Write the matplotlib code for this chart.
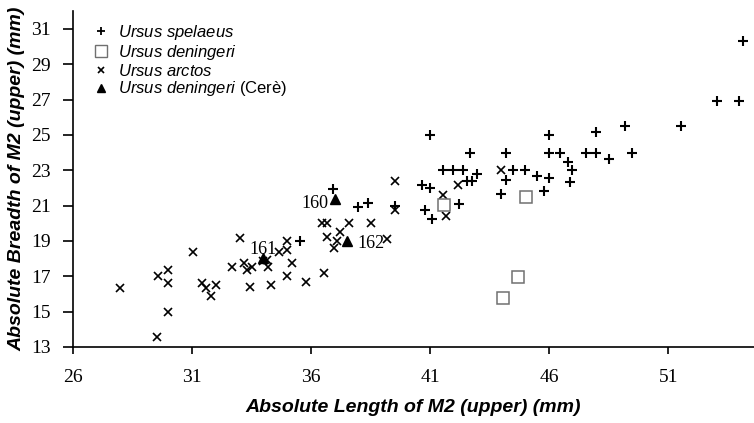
import matplotlib
matplotlib.use("Agg")
import matplotlib.pyplot as plt
from matplotlib.lines import Line2D

# Ursus spelaeus (+)
spel_len = [35.53, 36.9, 37.96, 38.39, 39.5, 40.64, 40.99, 40.99, 40.77, 41.07,
            41.52, 41.97, 42.39, 42.2, 42.55, 42.77, 42.67, 42.97, 43.96, 44.18,
            44.18, 44.49, 44.98, 45.47, 45.77, 45.97, 45.97, 45.97, 46.47, 46.77,
            46.97, 46.85, 47.53, 47.96, 47.96, 48.49, 49.18, 49.48, 51.55, 53.06,
            53.96, 54.15]
spel_br = [19.0, 21.94, 20.94, 21.17, 21.0, 22.15, 21.98, 25.0, 20.75, 20.23,
           23.02, 23.02, 23.02, 21.1, 22.39, 22.37, 24.0, 22.8, 21.66, 24.0,
           22.44, 23.03, 23.02, 22.66, 21.84, 25.0, 24.0, 22.58, 23.98, 23.49,
           23.04, 22.36, 23.96, 23.96, 25.19, 23.66, 25.5, 23.96, 25.52, 26.94,
           26.94, 30.32]

# Ursus deningeri (quadrati)
den_len = [41.58, 45.02, 44.7, 44.07]
den_br = [21.04, 21.46, 16.96, 15.75]

# Ursus arctos (x)
arc_len = [27.96, 29.5, 29.56, 30.0, 30.0, 30.0, 31.02, 31.39, 31.56, 31.77,
           32.0, 32.68, 32.99, 33.17, 33.31, 33.51, 33.42, 33.98, 34.15, 34.18,
           34.31, 34.64, 34.97, 34.99, 35.19, 34.99, 35.78, 36.52, 36.45, 36.65,
           36.65, 37.2, 37.07, 36.97, 37.6, 38.49, 39.19, 39.5, 39.5, 41.55,
           41.68, 42.18, 43.96]
arc_br = [16.32, 13.58, 17.02, 17.36, 16.6, 14.98, 18.38, 16.6, 16.36, 15.9,
          16.53, 17.54, 19.19, 17.74, 17.36, 17.54, 16.41, 17.87, 17.92, 17.54,
          16.53, 18.39, 18.49, 19.02, 17.77, 17.02, 16.66, 17.17, 20.03, 20.03,
          19.2, 19.5, 18.98, 18.58, 20.03, 20.0, 19.1, 22.37, 20.75, 21.6,
          20.4, 22.17, 23.02]

# Ursus deningeri (Cerè), con numero di reperto
cere_len = [37.0, 33.98, 37.52]
cere_br = [21.38, 18.02, 19.02]
cere_lab = ["160", "161", "162"]

x_ticks = [26, 31, 36, 41, 46, 51]
y_ticks = [13, 15, 17, 19, 21, 23, 25, 27, 29, 31]

plt.rcParams["mathtext.fontset"] = "custom"
plt.rcParams["mathtext.it"] = "Liberation Sans:italic"
plt.rcParams["mathtext.rm"] = "Liberation Sans"

fig = plt.figure(figsize=(7.54, 4.23), dpi=100)
ax = fig.add_axes([0.0972, 0.1797, 0.9028, 0.7937])

ax.plot(arc_len, arc_br, "x", color="black", ms=6, mew=1.2)
ax.plot(spel_len, spel_br, "+", color="black", ms=6.5, mew=1.5)
ax.plot(den_len, den_br, "s", mfc="white", mec="#707070", ms=8.5, mew=1.1)
ax.plot(cere_len, cere_br, "^", color="black", ms=6.5)

# etichette dei reperti di Cerè
offs = [(-20, -5), (0, 9), (23, -3)]
for i in range(len(cere_lab)):
    ax.annotate(cere_lab[i], (cere_len[i], cere_br[i]), xytext=offs[i],
                textcoords="offset pixels", ha="center", va="center",
                family="Liberation Serif", fontsize=13)

ax.set_xlim(26, 54.6)
ax.set_ylim(13, 32)
ax.set_xticks(x_ticks)
ax.set_yticks(y_ticks)
ax.spines["top"].set_visible(False)
ax.spines["right"].set_visible(False)
for s in ["left", "bottom"]:
    ax.spines[s].set_linewidth(1.2)
ax.tick_params(axis="x", length=5, width=1.2, pad=11)
ax.tick_params(axis="y", length=7, width=1.2, pad=9)
for t in ax.get_xticklabels() + ax.get_yticklabels():
    t.set_family("Liberation Serif")
    t.set_fontsize(14)

ax.set_xlabel("Absolute Length of M2 (upper) (mm)", family="Liberation Sans",
              style="italic", weight="bold", fontsize=14, labelpad=9)
ax.set_ylabel("Absolute Breadth of M2 (upper) (mm)", family="Liberation Sans",
              style="italic", weight="bold", fontsize=14, labelpad=4)

# legenda
handles = [
    Line2D([], [], ls="none", marker="+", color="black", ms=6, mew=1.3),
    Line2D([], [], ls="none", marker="s", mfc="white", mec="#707070", ms=8, mew=1.0),
    Line2D([], [], ls="none", marker="x", color="black", ms=5, mew=1.2),
    Line2D([], [], ls="none", marker="^", color="black", ms=6),
]
labels = [r"$\mathit{Ursus\ spelaeus}$", r"$\mathit{Ursus\ deningeri}$",
          r"$\mathit{Ursus\ arctos}$", r"$\mathit{Ursus\ deningeri}$ (Cerè)"]
ax.legend(handles, labels, loc="upper left", bbox_to_anchor=(0.02, 0.985),
          frameon=False, handlelength=0.9, handletextpad=0.55,
          labelspacing=0.05, borderaxespad=0.0,
          prop={"family": "Liberation Sans", "size": 12})

fig.savefig("out.png", dpi=100)
